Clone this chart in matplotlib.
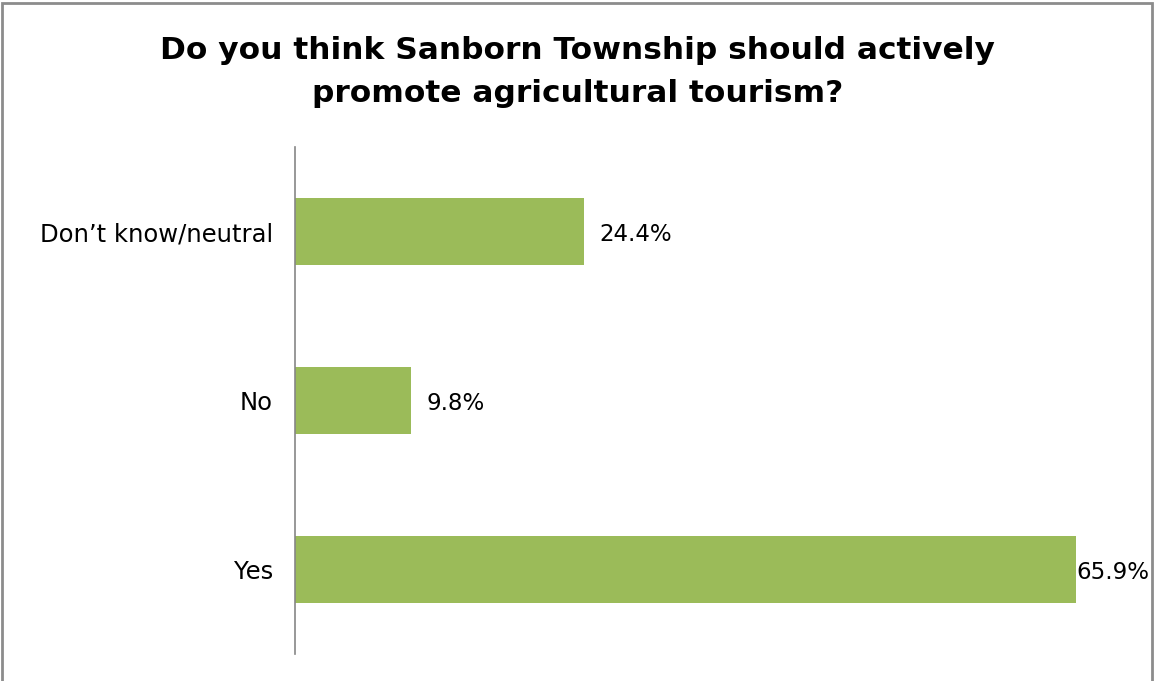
import matplotlib.pyplot as plt
from matplotlib.patches import Rectangle

categories = ['Yes', 'No', 'Don\u2019t know/neutral']
percent = [65.9, 9.8, 24.4]
title = 'Do you think Sanborn Township should actively\npromote agricultural tourism?'

bar_color = '#9bbb59'

fig = plt.figure(figsize=(11.55, 6.81), dpi=100)
ax = fig.add_axes([295 / 1155, 1 - 654 / 681, 830 / 1155, 507 / 681])

ypos = list(range(len(categories)))
bars = ax.barh(ypos, percent, height=0.4, color=bar_color)
ax.set_ylim(-0.5, len(categories) - 0.5)
ax.set_xlim(0, 70)
ax.set_yticks(ypos)
ax.set_yticklabels(categories, fontsize=17.5, family='DejaVu Sans')
ax.tick_params(axis='y', length=0, pad=16)
ax.set_xticks([])
for side in ['top', 'right', 'bottom']:
    ax.spines[side].set_visible(False)
ax.spines['left'].set_color('#868686')
ax.spines['left'].set_linewidth(1.2)

for i, (b, v) in enumerate(zip(bars, percent)):
    off = 0 if v == max(percent) else 15
    ax.annotate(f'{v:.1f}%', (v, b.get_y() + b.get_height() / 2),
                xytext=(off, -3), textcoords='offset pixels',
                va='center', ha='left', fontsize=16.5, annotation_clip=False)

fig.text(0.5, 1 - 72 / 681, title, ha='center', va='center',
         fontsize=22.5, fontweight='bold', linespacing=1.6)

fig.patches.append(Rectangle((2 / 1155, -0.01), 1150 / 1155, 1 - 3 / 681 + 0.01,
                             transform=fig.transFigure, fill=False,
                             edgecolor='#8c8c8c', linewidth=2))

fig.savefig('out.png', dpi=100)
